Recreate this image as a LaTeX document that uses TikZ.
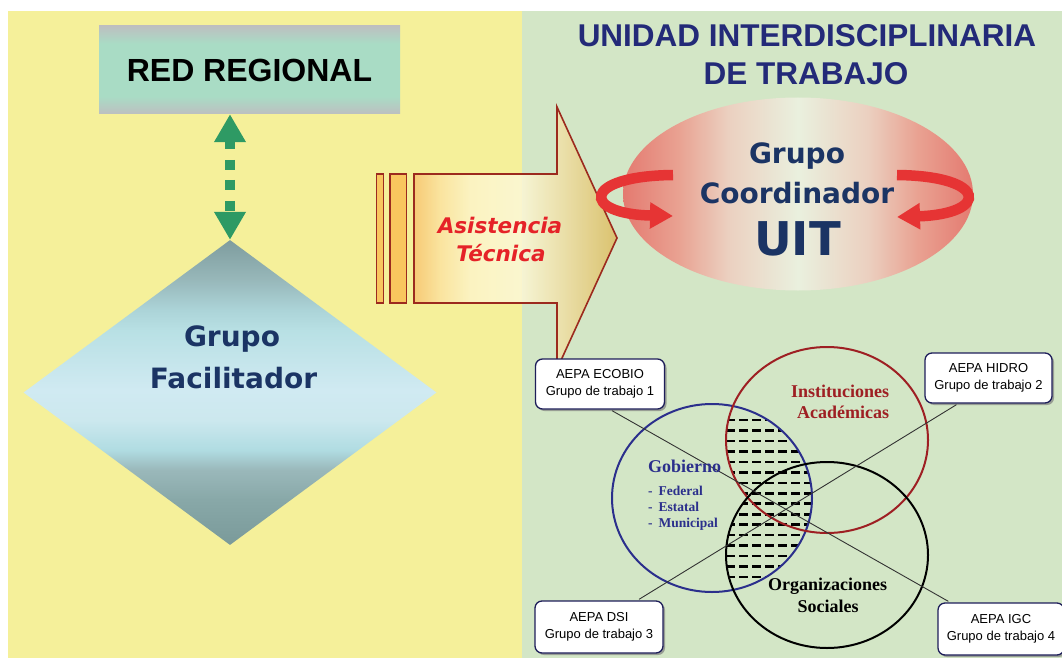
\documentclass[tikz,border=0pt]{standalone}
\usepackage{fontspec}
\setmainfont{Liberation Serif}
\newfontfamily\arialf{Liberation Sans}
\newfontfamily\dejavu{DejaVu Sans}
\usetikzlibrary{shapes.geometric,arrows.meta,shadows,calc}

\definecolor{bgyellow}{HTML}{F5F09A}
\definecolor{bggreen}{HTML}{D3E6C6}
\definecolor{rgray}{HTML}{BDBFC0}
\definecolor{rmint}{HTML}{A9DCC5}
\definecolor{dA}{HTML}{7A9A9A}
\definecolor{dB}{HTML}{88A8A8}
\definecolor{dC}{HTML}{9AB8BA}
\definecolor{dD}{HTML}{B0DCE2}
\definecolor{dE}{HTML}{CCE8EE}
\definecolor{dF}{HTML}{D0EAF2}
\definecolor{dG}{HTML}{B8E0E4}
\definecolor{dH}{HTML}{ACD4D8}
\definecolor{dI}{HTML}{98B8BA}
\definecolor{dJ}{HTML}{7E9C9E}
\definecolor{arrgreen}{HTML}{2E9A64}
\definecolor{facnavy}{HTML}{1B3464}
\definecolor{titlenavy}{HTML}{232A78}
\definecolor{aA}{HTML}{F8C470}
\definecolor{aB}{HTML}{FBE2A0}
\definecolor{aC}{HTML}{FDF4C8}
\definecolor{aD}{HTML}{FCF8D8}
\definecolor{aE}{HTML}{F0E0A8}
\definecolor{aF}{HTML}{DCBC60}
\definecolor{arrborder}{HTML}{9C2A1E}
\definecolor{barfill}{HTML}{F9C65E}
\definecolor{asisred}{HTML}{E52228}
\definecolor{eA}{HTML}{E47A70}
\definecolor{eB}{HTML}{E9A292}
\definecolor{eC}{HTML}{EBD0C0}
\definecolor{eD}{HTML}{EAF0DE}
\definecolor{curvred}{HTML}{E63434}
\definecolor{gobblue}{HTML}{2B2F8C}
\definecolor{instred}{HTML}{9E1F23}
\definecolor{boxborder}{HTML}{1E1E5A}

\pgfdeclareverticalshading{redboxsh}{100bp}{color(0bp)=(rgray); color(25bp)=(rgray); color(35bp)=(rmint); color(65bp)=(rmint); color(75bp)=(rgray); color(100bp)=(rgray)}
\pgfdeclareverticalshading{diamsh}{100bp}{color(0bp)=(dA); color(25bp)=(dA); color(32.4bp)=(dB); color(37.3bp)=(dC); color(40.6bp)=(dD); color(45.5bp)=(dE); color(50.4bp)=(dF); color(60.2bp)=(dG); color(63.5bp)=(dH); color(68.4bp)=(dI); color(75bp)=(dJ); color(100bp)=(dJ)}
\pgfdeclarehorizontalshading{arrsh}{100bp}{color(0bp)=(aA); color(25bp)=(aA); color(31.4bp)=(aB); color(38.8bp)=(aC); color(51.1bp)=(aD); color(61bp)=(aE); color(75bp)=(aF); color(100bp)=(aF)}
\pgfdeclarehorizontalshading{ellsh}{100bp}{color(0bp)=(eA); color(25bp)=(eA); color(33bp)=(eB); color(40bp)=(eC); color(50bp)=(eD); color(60bp)=(eC); color(67bp)=(eB); color(75bp)=(eA); color(100bp)=(eA)}

\begin{document}
\begin{tikzpicture}[x=1pt,y=-1pt,
  redbox/.style={shade, shading=redboxsh, minimum width=301pt, minimum height=88pt, inner sep=0pt,
    font=\arialf\bfseries\fontsize{32}{36}\selectfont, text=black},
  factext/.style={font=\dejavu\bfseries\fontsize{28}{32}\selectfont, text=facnavy, inner sep=0pt, anchor=base},
  greenarr/.style={draw=arrgreen, line width=10pt,
    dash pattern=on 8.5pt off 11pt on 10pt off 10pt on 10pt off 11pt on 10pt,
    {Triangle[width=30pt,length=28pt]}-{Triangle[width=30pt,length=28pt]}},
  titletext/.style={font=\arialf\bfseries\fontsize{31.5}{36}\selectfont, text=titlenavy, inner sep=0pt, anchor=base},
  asistext/.style={font=\dejavu\bfseries\itshape\fontsize{21.5}{26}\selectfont, text=asisred, inner sep=0pt, anchor=base},
  bar/.style={fill=barfill, draw=arrborder, line width=1.4pt},
  gctext/.style={font=\dejavu\bfseries\fontsize{28}{32}\selectfont, text=facnavy, inner sep=0pt, anchor=base},
  curv/.style={draw=curvred, line width=10.5pt, -{Triangle[width=25pt,length=23pt]}},
  hatch/.style={draw=black, line width=2.6pt, dash pattern=on 9pt off 4pt},
  venncirc/.style={line width=2pt},
  diag/.style={draw=black!80, line width=0.9pt},
  venntext/.style={font=\bfseries\fontsize{18}{21}\selectfont, inner sep=0pt, anchor=base},
  govlist/.style={font=\bfseries\fontsize{13.5}{16}\selectfont, text=gobblue, inner sep=0pt, anchor=base west},
  aepa/.style={draw=boxborder, line width=1.3pt, fill=white, rounded corners=7pt, align=center,
    font=\arialf\fontsize{13}{17.5}\selectfont, inner sep=0pt,
    drop shadow={shadow xshift=2pt, shadow yshift=-2pt, fill=black!50, opacity=0.7}}
]
\useasboundingbox (0,0) rectangle (1062,658);
\fill[white] (0,0) rectangle (1062,658);
\fill[bgyellow] (8,11) rectangle (522,658);
\fill[bggreen] (522,11) rectangle (1062,658);

% left part
\node[redbox] (red) at (249.5,70) {RED REGIONAL};
\node[diamond, minimum width=413pt, minimum height=305pt, inner sep=0pt, shade, shading=diamsh] (fac) at (230,392.5) {};
\draw[greenarr] (fac.north |- red.south) -- (fac.north);
\node[factext] (fac1) at (232,346) {Grupo};
\node[factext] (fac2) at (233.5,388) {Facilitador};

% big arrow
\path[shade, shading=arrsh, fill opacity=0.85, draw=arrborder, line width=1.6pt]
  (414,174) -- (557,174) -- (557,107) -- (617,238) -- (557,369) -- (557,303) -- (414,303) -- cycle;
\path[bar] (376.5,174) rectangle (383.5,303);
\path[bar] (390,174) rectangle (406.5,303);
\node[asistext] (asis1) at (500,233) {Asistencia};
\node[asistext] (asis2) at (501,261) {Técnica};

% title
\node[titletext] (t1) at (807,47) {UNIDAD INTERDISCIPLINARIA};
\node[titletext] (t2) at (806,85) {DE TRABAJO};

% coordinating group
\node[ellipse, minimum width=350pt, minimum height=193pt, inner sep=0pt, shade, shading=ellsh] (gc) at (798,194) {};
\node[gctext] (gc1) at (797,163) {Grupo};
\node[gctext] (gc2) at (797,203) {Coordinador};
\node[font=\dejavu\bfseries\fontsize{46.5}{52}\selectfont, text=facnavy, inner sep=0pt, anchor=base] (gc3) at (797.5,255) {UIT};
\draw[curv] (673,175) .. controls (581,176) and (581,214) .. (673,216);
\draw[curv] (897,175) .. controls (989,176) and (989,214) .. (897,217);

% Venn hatching
\begin{scope}
  \clip (712,498) ellipse [x radius=100, y radius=94];
  \clip (827,440) ellipse [x radius=101, y radius=93];
  \foreach \k in {0,...,15} \draw[hatch] (596,{420+10.47*\k}) -- (840,{420+10.47*\k});
\end{scope}
\begin{scope}
  \clip (712,498) ellipse [x radius=100, y radius=94];
  \clip (827,555) ellipse [x radius=101, y radius=93];
  \foreach \k in {0,...,15} \draw[hatch] (596,{420+10.47*\k}) -- (840,{420+10.47*\k});
\end{scope}
\draw[venncirc, draw=gobblue] (712,498) ellipse [x radius=100, y radius=94];
\draw[venncirc, draw=instred] (827,440) ellipse [x radius=101, y radius=93];
\draw[venncirc, draw=black] (827,555) ellipse [x radius=101, y radius=93];

% boxes
\node[aepa, minimum width=129pt, minimum height=50pt] (ecobio) at (600,384) {AEPA ECOBIO\\Grupo de trabajo 1};
\node[aepa, minimum width=127pt, minimum height=50pt] (hidro) at (988.5,378) {AEPA HIDRO\\Grupo de trabajo 2};
\node[aepa, minimum width=128pt, minimum height=52pt] (dsi) at (599,627) {AEPA DSI\\Grupo de trabajo 3};
\node[aepa, minimum width=126pt, minimum height=52pt] (igc) at (1001,629) {AEPA IGC\\Grupo de trabajo 4};

\draw[diag] ($(ecobio.south)+(12,1)$) -- ($(igc.north west)+(11,-1)$);
\draw[diag] ($(dsi.north)+(40,-1)$) -- ($(hidro.south)+(-32,1)$);

% Venn labels
\node[venntext, text=instred] (inst1) at (840,397) {Instituciones};
\node[venntext, text=instred] (inst2) at (843,418) {Académicas};
\node[venntext, text=gobblue, anchor=base west] (gob) at (648,472) {Gobierno};
\node[govlist] (gob1) at (648,495) {-\hspace{6pt}Federal};
\node[govlist] (gob2) at (648,511) {-\hspace{6pt}Estatal};
\node[govlist] (gob3) at (648,527) {-\hspace{6pt}Municipal};
\node[venntext, text=black] (org1) at (827.5,590) {Organizaciones};
\node[venntext, text=black] (org2) at (828,612) {Sociales};
\end{tikzpicture}
\end{document}
